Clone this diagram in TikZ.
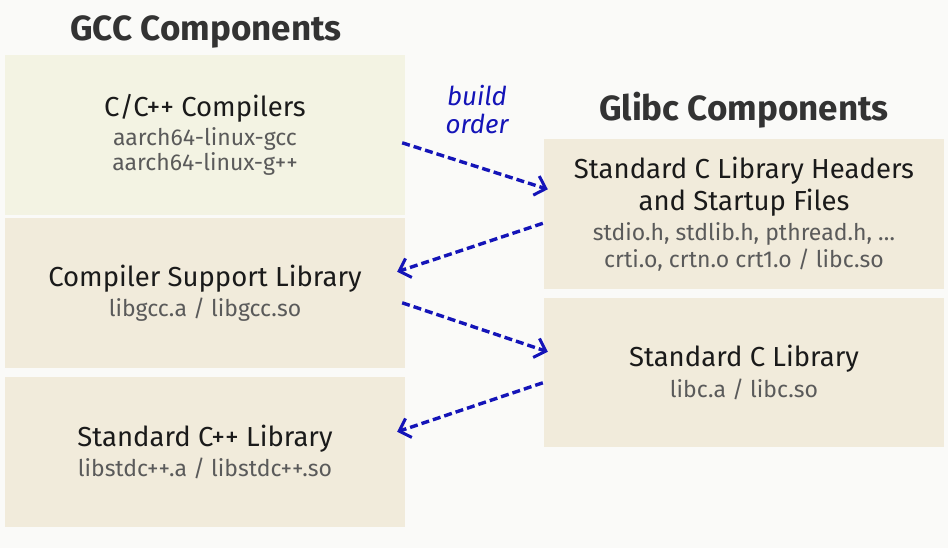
\documentclass[tikz,border=0pt]{standalone}
\usepackage{fontspec}
\setmainfont{Fira Sans}
\usetikzlibrary{arrows.meta,calc}
\definecolor{bggray}{HTML}{FAFAF8}
\definecolor{boxgreen}{HTML}{F3F3E3}
\definecolor{boxbeige}{HTML}{F1EBDB}
\definecolor{arrowblue}{HTML}{1414B8}
\definecolor{titlegray}{HTML}{333333}
\definecolor{subgray}{HTML}{5A5A5A}
\definecolor{maintext}{HTML}{1A1A1A}
\newcommand{\mainf}{\fontsize{27.5}{32}\selectfont\color{maintext}}
\newcommand{\subf}{\fontsize{23}{27}\selectfont\color{subgray}}
\tikzset{
  compbox/.style={rectangle, draw=none, inner sep=0pt, minimum width=400pt, align=center},
  titletext/.style={font=\fontsize{35}{40}\selectfont\bfseries, text=titlegray},
  orderarrow/.style={draw=arrowblue, line width=3.4pt, dash pattern=on 8pt off 4pt,
     -{Straight Barb[length=10pt,width=20pt,line width=3pt]}},
}
\begin{document}
\begin{tikzpicture}[x=1pt,y=-1pt]
\fill[bggray] (0,0) rectangle (948,548);
\useasboundingbox (0,0) rectangle (948,548);

\node[titletext] (gcct) at (206,32) {GCC Components};
\node[titletext] (glibct) at (744,110) {Glibc Components};

\node[compbox, fill=boxgreen, minimum height=160pt] (cc) at (205,135)
  {\mainf C/C++ Compilers\\[4pt] \subf aarch64-linux-gcc\\[2pt] \subf aarch64-linux-g++};
\node[compbox, fill=boxbeige, minimum height=150pt] (csl) at (205,293)
  {\mainf Compiler Support Library\\[5pt] \subf libgcc.a / libgcc.so};
\node[compbox, fill=boxbeige, minimum height=150pt] (cpp) at (205,452)
  {\mainf Standard C++ Library\\[5pt] \subf libstdc++.a / libstdc++.so};

\node[compbox, fill=boxbeige, minimum height=149pt] (hdr) at (744,214)
  {\mainf Standard C Library Headers\\[4pt] \mainf and Startup Files\\[5pt] \subf stdio.h, stdlib.h, pthread.h, \dots\\[3pt] \subf crti.o, crtn.o crt1.o / libc.so};
\node[compbox, fill=boxbeige, minimum height=149pt] (libc) at (744,372.5)
  {\mainf Standard C Library\\[5pt] \subf libc.a / libc.so};

\node[font=\fontsize{26}{28}\selectfont\itshape, text=arrowblue, align=center] (bo) at (477,110) {build\\order};

\draw[orderarrow] ($(cc.north east)+(-3,88)$) -- ($(hdr.north west)+(4,50)$);
\draw[orderarrow] ($(hdr.north west)+(-1,84)$) -- ($(csl.north east)+(-8,54)$);
\draw[orderarrow] ($(csl.north east)+(-3,85)$) -- ($(libc.north west)+(4,54)$);
\draw[orderarrow] ($(libc.north west)+(-1,85)$) -- ($(cpp.north east)+(-8,55)$);
\end{tikzpicture}
\end{document}
